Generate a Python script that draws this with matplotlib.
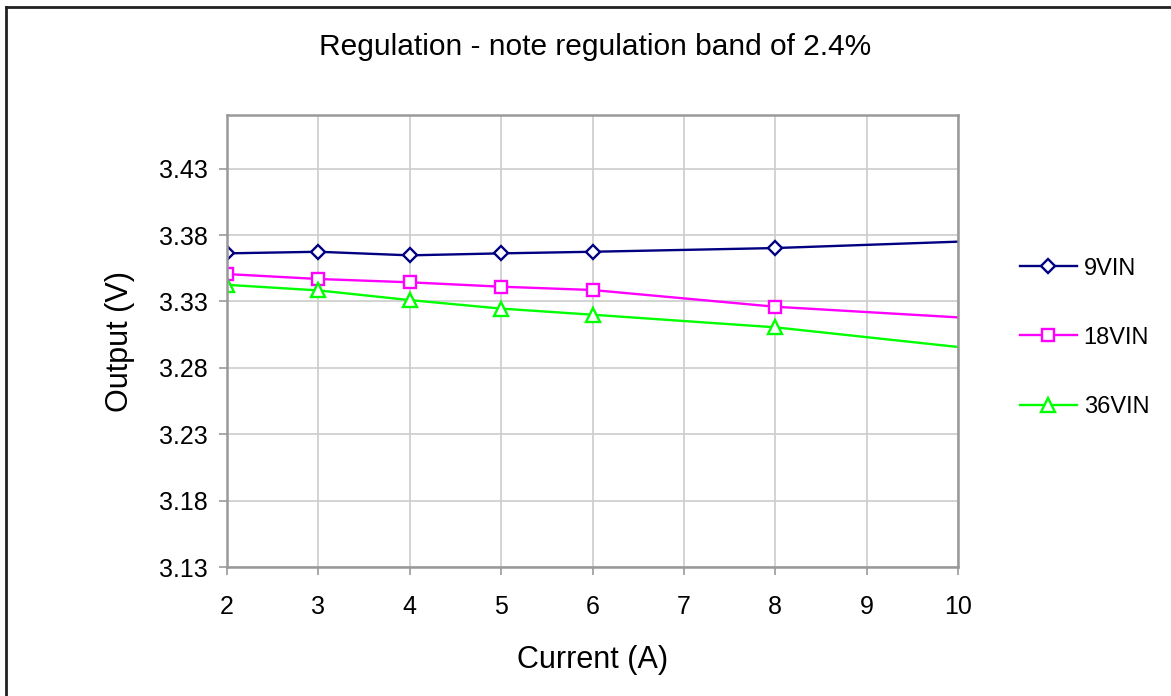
import matplotlib
matplotlib.use("Agg")
from matplotlib import pyplot as plt
from matplotlib.lines import Line2D

plt.rcParams['font.family'] = ['Liberation Sans', 'DejaVu Sans']

# current (A) and output voltage for each input voltage
current = [2, 3, 4, 5, 6, 8, 10]
v_9vin = [3.3662, 3.3674, 3.3647, 3.3662, 3.3674, 3.3702, 3.3750]
v_18vin = [3.3506, 3.3469, 3.3444, 3.3411, 3.3386, 3.3260, 3.3180]
v_36vin = [3.3425, 3.3383, 3.3310, 3.3246, 3.3200, 3.3105, 3.2957]

y_ticks = [3.13, 3.18, 3.23, 3.28, 3.33, 3.38, 3.43]
x_ticks = [2, 3, 4, 5, 6, 7, 8, 9, 10]

fig = plt.figure(figsize=(11.71, 6.96), dpi=100)
ax = fig.add_axes([0.1939, 0.1853, 0.6242, 0.6495])

marks = list(range(6))  # last point has no marker
ax.plot(current, v_9vin, color='#000080', lw=1.7, marker='D', ms=7.5,
        mfc='white', mec='#000080', mew=1.7, markevery=marks, label='9VIN')
ax.plot(current, v_18vin, color='#FF00FF', lw=1.7, marker='s', ms=8.5,
        mfc='white', mec='#FF00FF', mew=1.7, markevery=marks, label='18VIN')
ax.plot(current, v_36vin, color='#00FF00', lw=1.7, marker='^', ms=9.5,
        mfc='white', mec='#00FF00', mew=1.7, markevery=marks, label='36VIN')

ax.set_xlim(2, 10)
ax.set_ylim(3.13, 3.4704)
ax.set_xticks(x_ticks)
ax.set_yticks(y_ticks)
ax.set_yticklabels([f'{t:.2f}' for t in y_ticks])
ax.grid(True, color='#cccccc', lw=1.2)
ax.set_axisbelow(True)
for s in ax.spines.values():
    s.set_color('#999999')
    s.set_linewidth(1.8)
ax.tick_params(axis='both', labelsize=18, length=6, width=1.2,
               color='#999999')
ax.tick_params(axis='y', pad=8)
ax.tick_params(axis='x', pad=14)

ax.set_xlabel('Current (A)', fontsize=22, va='center')
ax.set_ylabel('Output (V)', fontsize=22, va='center')
ax.xaxis.set_label_coords(0.5, -0.205)
ax.yaxis.set_label_coords(-0.147, 0.5)
fig.text(0.508, 0.9325, 'Regulation - note regulation band of 2.4%',
         fontsize=21.5, ha='center', va='center')

ax.legend(loc='upper left', bbox_to_anchor=(0.871, 0.63),
          bbox_transform=fig.transFigure, frameon=False, fontsize=17,
          borderpad=0, borderaxespad=0, handlelength=2.4,
          handletextpad=0.3, labelspacing=2.0)

# outer border of the chart area (left and top only visible)
fig.add_artist(Line2D([0.0055, 0.0055], [0, 0.99], transform=fig.transFigure,
                      color='#222222', lw=2))
fig.add_artist(Line2D([0.0055, 1], [0.99, 0.99], transform=fig.transFigure,
                      color='#222222', lw=2))

fig.savefig('out.png', dpi=100)
